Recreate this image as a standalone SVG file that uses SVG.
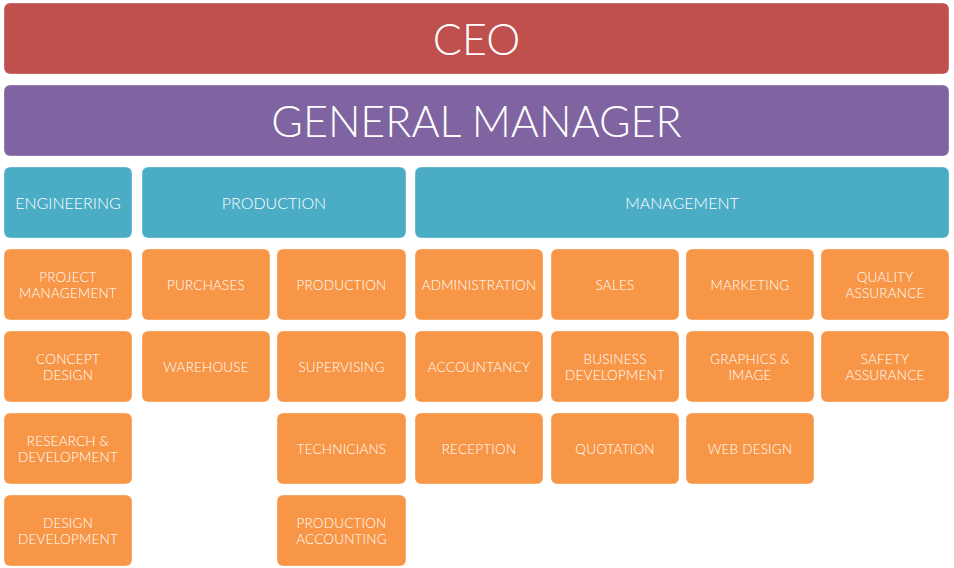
<svg xmlns="http://www.w3.org/2000/svg" width="954" height="568" viewBox="0 0 954 568">
<style>
rect{stroke:#ffffff;stroke-opacity:0.35;stroke-width:1}
.ceo{fill:#C0504D}.gm{fill:#8064A2}.dep{fill:#4BACC6}.unit{fill:#F79646}
text{fill:#ffffff;font-family:Lato,"Open Sans","Liberation Sans",sans-serif;font-weight:300;text-anchor:middle;dominant-baseline:central}
.big{font-size:43px}.hd{font-size:16px}.u{font-size:13.5px;letter-spacing:0.2px}
</style>
<rect width="954" height="568" fill="#ffffff" style="stroke:none"/>
<g id="ceo"><rect class="ceo" x="4" y="3" width="945" height="71" rx="6"/><text class="big" x="476.5" y="38.5">CEO</text></g>
<g id="gm"><rect class="gm" x="4" y="85" width="945" height="71" rx="6"/><text class="big" x="476.5" y="120.5">GENERAL MANAGER</text></g>
<g id="engineering"><rect class="dep" x="4" y="167" width="128" height="71" rx="6"/><text class="hd" x="68" y="202.5">ENGINEERING</text></g>
<g id="production"><rect class="dep" x="142" y="167" width="264" height="71" rx="6"/><text class="hd" x="274" y="202.5">PRODUCTION</text></g>
<g id="management"><rect class="dep" x="415" y="167" width="534" height="71" rx="6"/><text class="hd" x="682" y="202.5">MANAGEMENT</text></g>

<g id="project-management"><rect class="unit" x="4" y="249" width="128" height="71" rx="6"/><text class="u" x="68" y="276.5">PROJECT</text><text class="u" x="68" y="292.5">MANAGEMENT</text></g>
<g id="concept-design"><rect class="unit" x="4" y="331" width="128" height="71" rx="6"/><text class="u" x="68" y="358.5">CONCEPT</text><text class="u" x="68" y="374.5">DESIGN</text></g>
<g id="research-development"><rect class="unit" x="4" y="413" width="128" height="71" rx="6"/><text class="u" x="68" y="440.5">RESEARCH &amp;</text><text class="u" x="68" y="456.5">DEVELOPMENT</text></g>
<g id="design-development"><rect class="unit" x="4" y="495" width="128" height="71" rx="6"/><text class="u" x="68" y="522.5">DESIGN</text><text class="u" x="68" y="538.5">DEVELOPMENT</text></g>

<g id="purchases"><rect class="unit" x="142" y="249" width="128" height="71" rx="6"/><text class="u" x="206" y="284.5">PURCHASES</text></g>
<g id="warehouse"><rect class="unit" x="142" y="331" width="128" height="71" rx="6"/><text class="u" x="206" y="366.5">WAREHOUSE</text></g>

<g id="production-unit"><rect class="unit" x="277" y="249" width="129" height="71" rx="6"/><text class="u" x="341.5" y="284.5">PRODUCTION</text></g>
<g id="supervising"><rect class="unit" x="277" y="331" width="129" height="71" rx="6"/><text class="u" x="341.5" y="366.5">SUPERVISING</text></g>
<g id="technicians"><rect class="unit" x="277" y="413" width="129" height="71" rx="6"/><text class="u" x="341.5" y="448.5">TECHNICIANS</text></g>
<g id="production-accounting"><rect class="unit" x="277" y="495" width="129" height="71" rx="6"/><text class="u" x="341.5" y="522.5">PRODUCTION</text><text class="u" x="341.5" y="538.5">ACCOUNTING</text></g>

<g id="administration"><rect class="unit" x="415" y="249" width="128" height="71" rx="6"/><text class="u" x="479" y="284.5">ADMINISTRATION</text></g>
<g id="accountancy"><rect class="unit" x="415" y="331" width="128" height="71" rx="6"/><text class="u" x="479" y="366.5">ACCOUNTANCY</text></g>
<g id="reception"><rect class="unit" x="415" y="413" width="128" height="71" rx="6"/><text class="u" x="479" y="448.5">RECEPTION</text></g>

<g id="sales"><rect class="unit" x="551" y="249" width="128" height="71" rx="6"/><text class="u" x="615" y="284.5">SALES</text></g>
<g id="business-development"><rect class="unit" x="551" y="331" width="128" height="71" rx="6"/><text class="u" x="615" y="358.5">BUSINESS</text><text class="u" x="615" y="374.5">DEVELOPMENT</text></g>
<g id="quotation"><rect class="unit" x="551" y="413" width="128" height="71" rx="6"/><text class="u" x="615" y="448.5">QUOTATION</text></g>

<g id="marketing"><rect class="unit" x="686" y="249" width="128" height="71" rx="6"/><text class="u" x="750" y="284.5">MARKETING</text></g>
<g id="graphics-image"><rect class="unit" x="686" y="331" width="128" height="71" rx="6"/><text class="u" x="750" y="358.5">GRAPHICS &amp;</text><text class="u" x="750" y="374.5">IMAGE</text></g>
<g id="web-design"><rect class="unit" x="686" y="413" width="128" height="71" rx="6"/><text class="u" x="750" y="448.5">WEB DESIGN</text></g>

<g id="quality-assurance"><rect class="unit" x="821" y="249" width="128" height="71" rx="6"/><text class="u" x="885" y="276.5">QUALITY</text><text class="u" x="885" y="292.5">ASSURANCE</text></g>
<g id="safety-assurance"><rect class="unit" x="821" y="331" width="128" height="71" rx="6"/><text class="u" x="885" y="358.5">SAFETY</text><text class="u" x="885" y="374.5">ASSURANCE</text></g>
<g id="connectors"></g>
</svg>
